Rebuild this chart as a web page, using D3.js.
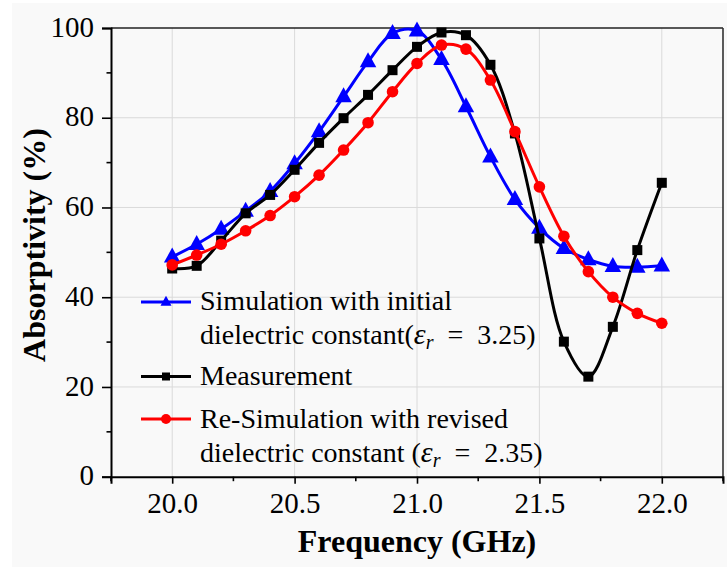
<!DOCTYPE html>
<html>
<head>
<meta charset="utf-8">
<script src="https://cdn.jsdelivr.net/npm/d3@7"></script>
<style>
  html, body { margin: 0; padding: 0; background: #ffffff; }
  svg { display: block; }
</style>
</head>
<body>
<svg id="chart" width="727" height="567"></svg>
<script>
// ---- Data ----
const frequency = [20.0, 20.1, 20.2, 20.3, 20.4, 20.5, 20.6, 20.7, 20.8, 20.9, 21.0,
                   21.1, 21.2, 21.3, 21.4, 21.5, 21.6, 21.7, 21.8, 21.9, 22.0];
const simInitial = [49.0, 51.8, 55.2, 59.2, 63.6, 69.8, 76.9, 84.7, 92.5, 98.8, 99.4,
                    93.0, 82.5, 71.3, 61.8, 55.4, 50.9, 48.4, 46.9, 46.7, 47.0];
const measurement = [46.4, 47.0, 52.6, 58.7, 62.8, 68.4, 74.4, 79.9, 85.1, 90.6, 95.8,
                     99.0, 98.4, 91.8, 76.5, 53.1, 30.1, 22.3, 33.4, 50.5, 65.5];
const simRevised = [47.2, 49.4, 51.8, 54.8, 58.2, 62.4, 67.2, 72.8, 78.9, 85.8, 92.1,
                    96.2, 95.3, 88.4, 76.9, 64.6, 53.6, 45.7, 40.0, 36.4, 34.2];
const xTicks = [20.0, 20.5, 21.0, 21.5, 22.0];
const yTicks = [0, 20, 40, 60, 80, 100];
const seriesNames = ["Simulation with initial", "Measurement", "Re-Simulation with revised"];

// ---- Layout ----
const FONT = "'Liberation Serif', 'Times New Roman', Times, serif";
const svg = d3.select("#chart").style("font-family", FONT);
const W = 727, H = 567;
const pLeft = 111, pRight = 723, pTop = 28, pBottom = 476.7;

svg.append("rect").attr("x", 12).attr("y", 3).attr("width", W - 12).attr("height", H - 3)
   .attr("fill", "#f9f9f9");

const x = d3.scaleLinear().domain([19.75, 22.25]).range([pLeft, pRight]);
const y = d3.scaleLinear().domain([0, 100]).range([pBottom, pTop]);

// Grid
const grid = svg.append("g");
grid.selectAll(".gx").data(xTicks).enter().append("line")
  .attr("x1", d => x(d)).attr("x2", d => x(d)).attr("y1", pTop).attr("y2", pBottom)
  .attr("stroke", "#dadada").attr("stroke-width", 1);
grid.selectAll(".gy").data(yTicks.filter(d => d > 0 && d < 100)).enter().append("line")
  .attr("x1", pLeft).attr("x2", pRight).attr("y1", d => y(d)).attr("y2", d => y(d))
  .attr("stroke", "#dadada").attr("stroke-width", 1);

// Frame (top/right)
svg.append("line").attr("x1", pLeft).attr("x2", pRight).attr("y1", pTop).attr("y2", pTop)
   .attr("stroke", "#222").attr("stroke-width", 1.6);
svg.append("line").attr("x1", pRight).attr("x2", pRight).attr("y1", pTop).attr("y2", pBottom)
   .attr("stroke", "#333").attr("stroke-width", 1.6);

// Axes
const xMinor = d3.range(19.75, 22.26, 0.25).filter(v => !xTicks.some(t => Math.abs(t - v) < 1e-6));
const yMinor = d3.range(10, 100, 20);

const xAxis = svg.append("g").attr("transform", `translate(0,${pBottom})`)
  .call(d3.axisBottom(x).tickValues(xTicks).tickFormat(d3.format(".1f")).tickSize(7).tickPadding(8));
xAxis.append("g").selectAll("line").data(xMinor).enter().append("line")
  .attr("x1", d => x(d)).attr("x2", d => x(d)).attr("y1", 0).attr("y2", 4.5)
  .attr("stroke", "#000").attr("stroke-width", 1.6);

const yAxis = svg.append("g").attr("transform", `translate(${pLeft},0)`)
  .call(d3.axisLeft(y).tickValues(yTicks).tickSize(9).tickPadding(8));
yAxis.append("g").selectAll("line").data(yMinor).enter().append("line")
  .attr("x1", 0).attr("x2", -4.5).attr("y1", d => y(d)).attr("y2", d => y(d))
  .attr("stroke", "#000").attr("stroke-width", 1.6);

[xAxis, yAxis].forEach(a => {
  a.attr("font-family", null).style("font-family", FONT);
  a.select(".domain").attr("stroke", "#000").attr("stroke-width", 2);
  a.selectAll(".tick line").attr("stroke", "#000").attr("stroke-width", 1.6);
  a.selectAll(".tick text").style("font-family", FONT)
    .attr("font-size", 29).attr("fill", "#000");
});
yAxis.selectAll(".tick text").attr("dy", "0.28em");
xAxis.selectAll(".tick text").attr("dy", "0.75em");

// Axis titles
svg.append("text").attr("x", 417).attr("y", 552).attr("text-anchor", "middle").style("font-family", FONT)
  .attr("font-size", 32).attr("font-weight", "bold").text("Frequency (GHz)");
svg.append("text").attr("transform", `translate(45,245) rotate(-90)`).attr("text-anchor", "middle").style("font-family", FONT)
  .attr("font-size", 32).attr("font-weight", "bold").text("Absorptivity (%)");

// Series
const line = d3.line().x((d, i) => x(frequency[i])).y(d => y(d)).curve(d3.curveCatmullRom.alpha(0.5));
const triPath = s => `M0,${-s * 0.62}L${s * 0.55},${s * 0.38}L${-s * 0.55},${s * 0.38}Z`;

function drawSeries(vals, color, marker) {
  const g = svg.append("g");
  g.append("path").attr("d", line(vals)).attr("fill", "none").attr("stroke", color)
    .attr("stroke-width", 3).attr("stroke-linejoin", "round");
  const pts = g.selectAll(".m").data(vals).enter();
  if (marker === "tri") {
    pts.append("path").attr("d", triPath(15))
      .attr("transform", (d, i) => `translate(${x(frequency[i])},${y(d)})`).attr("fill", color);
  } else if (marker === "sq") {
    pts.append("rect").attr("x", (d, i) => x(frequency[i]) - 5).attr("y", d => y(d) - 5)
      .attr("width", 10).attr("height", 10).attr("fill", color);
  } else {
    pts.append("circle").attr("cx", (d, i) => x(frequency[i])).attr("cy", d => y(d))
      .attr("r", 5.8).attr("fill", color);
  }
}
drawSeries(simInitial, "#0000ff", "tri");
drawSeries(measurement, "#000000", "sq");
drawSeries(simRevised, "#ff0000", "circ");

// Legend
const lg = svg.append("g").attr("font-size", 28).attr("fill", "#000").style("font-family", FONT);
const lx1 = 141, lx2 = 191, tx = 200;
function legendLine(yy, color, marker) {
  lg.append("line").attr("x1", lx1).attr("x2", lx2).attr("y1", yy).attr("y2", yy)
    .attr("stroke", color).attr("stroke-width", 3);
  const cx = (lx1 + lx2) / 2;
  if (marker === "tri") lg.append("path").attr("d", triPath(10)).attr("transform", `translate(${cx},${yy})`).attr("fill", color);
  else if (marker === "sq") lg.append("rect").attr("x", cx - 4).attr("y", yy - 4).attr("width", 8).attr("height", 8).attr("fill", color);
  else lg.append("circle").attr("cx", cx).attr("cy", yy).attr("r", 5).attr("fill", color);
}
function epsText(yy, prefix, value) {
  const t = lg.append("text").attr("x", tx).attr("y", yy).style("font-family", FONT);
  t.append("tspan").text(prefix);
  t.append("tspan").attr("font-style", "italic").attr("font-size", 30).text("ε");
  t.append("tspan").attr("font-style", "italic").attr("font-size", 20).attr("dy", 5).text("r");
  t.append("tspan").attr("dy", -5).text("\u2002=\u2002" + value + ")");
}
legendLine(302, "#0000ff", "tri");
lg.append("text").attr("x", tx).attr("y", 310).style("font-family", FONT).text(seriesNames[0]);
epsText(343.5, "dielectric constant(", "3.25");
legendLine(376.5, "#000000", "sq");
lg.append("text").attr("x", tx).attr("y", 385).style("font-family", FONT).text(seriesNames[1]);
legendLine(419, "#ff0000", "circ");
lg.append("text").attr("x", tx).attr("y", 427.5).style("font-family", FONT).text(seriesNames[2]);
epsText(461.5, "dielectric constant (", "2.35");
</script>
</body>
</html>
